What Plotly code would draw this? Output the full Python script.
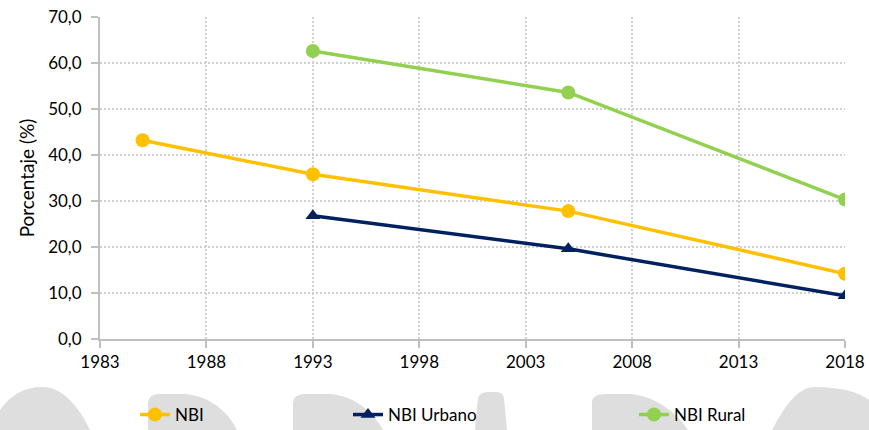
import plotly.graph_objects as go

# ---- data ----
years_nbi = [1985, 1993, 2005, 2018]
nbi = [43.2, 35.8, 27.8, 14.2]
years_area = [1993, 2005, 2018]
nbi_urbano = [26.8, 19.6, 9.4]
nbi_rural = [62.6, 53.6, 30.3]
series_names = ["NBI", "NBI Urbano", "NBI Rural"]

W, H = 869, 430
ML, MR, MT, MB = 100, 24, 17, 91
PW, PH = W - ML - MR, H - MT - MB

def px(x, y):
    return (x - ML) / PW, (H - MB - y) / PH

FONT = "Lato"
FS = 17

fig = go.Figure()
fig.add_trace(go.Scatter(x=years_nbi, y=nbi, name=series_names[0], mode="lines+markers",
                         line=dict(color="#FFC000", width=3.5),
                         marker=dict(symbol="circle", size=14, color="#FFC000"),
                         legend="legend"))
fig.add_trace(go.Scatter(x=years_area, y=nbi_urbano, name=series_names[1], mode="lines+markers",
                         line=dict(color="#002060", width=3.5),
                         marker=dict(symbol="triangle-up", size=13, color="#002060"),
                         legend="legend2"))
fig.add_trace(go.Scatter(x=years_area, y=nbi_rural, name=series_names[2], mode="lines+markers",
                         line=dict(color="#92D050", width=3.5),
                         marker=dict(symbol="circle", size=14, color="#92D050"),
                         legend="legend3"))

# watermark shapes (pixel paths converted to paper coords)
def path(cmds):
    out = []
    for c in cmds:
        if isinstance(c, str):
            out.append(c)
        else:
            x, y = px(*c)
            out.append(f"{x:.5f},{y:.5f}")
    return " ".join(out)

wm = [
    ["M", (0, 430), "L", (0, 410), "C", (10, 395), (25, 387), (42, 387), "C", (62, 387), (78, 405), (90, 430), "Z"],
    ["M", (148, 430), "L", (148, 402), "Q", (149, 394), (160, 394), "L", (185, 394), "C", (210, 396), (228, 412), (237, 430), "Z"],
    ["M", (293, 430), "L", (293, 402), "Q", (294, 394), (306, 394), "L", (330, 394), "C", (355, 396), (373, 412), (383, 430), "Z"],
    ["M", (475, 430), "L", (478, 398), "Q", (480, 392), (488, 392), "L", (496, 392), "Q", (503, 392), (504, 398), "L", (507, 430), "Z"],
    ["M", (592, 430), "L", (592, 402), "Q", (593, 394), (606, 394), "L", (630, 394), "C", (655, 396), (676, 412), (688, 430), "Z"],
    ["M", (772, 430), "C", (785, 405), (798, 387), (815, 387), "C", (840, 387), (858, 392), (869, 400), "L", (869, 430), "Z"],
]
shapes = [dict(type="path", xref="paper", yref="paper", path=path(p),
               fillcolor="#dedede", line=dict(width=0), layer="below") for p in wm]

leg_common = dict(orientation="h", yanchor="middle", bgcolor="rgba(0,0,0,0)",
                  font=dict(family=FONT, size=FS, color="#000000"), xanchor="left",
                  visible=True)
ly = px(0, 415)[1]

GRID = "#d0d0d0"
DASH = "2px,2px"

fig.update_layout(
    width=W, height=H,
    margin=dict(l=ML, r=MR, t=MT, b=MB, autoexpand=False),
    paper_bgcolor="white", plot_bgcolor="rgba(0,0,0,0)",
    separators=",.",
    showlegend=True,
    font=dict(family=FONT, size=FS, color="#000000"),
    shapes=shapes,
    legend=dict(x=px(135, 0)[0], y=ly, **leg_common),
    legend2=dict(x=px(348, 0)[0], y=ly, **leg_common),
    legend3=dict(x=px(634, 0)[0], y=ly, **leg_common),
    xaxis=dict(range=[1983, 2018], tick0=1983, dtick=5, showgrid=True,
               gridcolor=GRID, griddash=DASH, gridwidth=1.5,
               showline=True, linecolor="#bfbfbf", linewidth=2,
               ticks="outside", ticklen=7, tickcolor="#bfbfbf", tickwidth=2,
               zeroline=False, tickfont=dict(family=FONT, size=FS)),
    yaxis=dict(range=[0, 70], tick0=0, dtick=10, tickformat=".1f", showgrid=True,
               gridcolor=GRID, griddash=DASH, gridwidth=1.5,
               showline=True, linecolor="#bfbfbf", linewidth=2,
               ticks="outside", ticklen=7, tickcolor="#bfbfbf", tickwidth=2,
               ticklabelstandoff=6,
               zeroline=False, tickfont=dict(family=FONT, size=FS),
               title=dict(text="Porcentaje (%)", font=dict(family=FONT, size=19), standoff=8)),
)

fig.write_html("out.html", config={"displayModeBar": False},
               post_script="document.body.style.margin='0px';document.body.style.overflow='hidden';")
